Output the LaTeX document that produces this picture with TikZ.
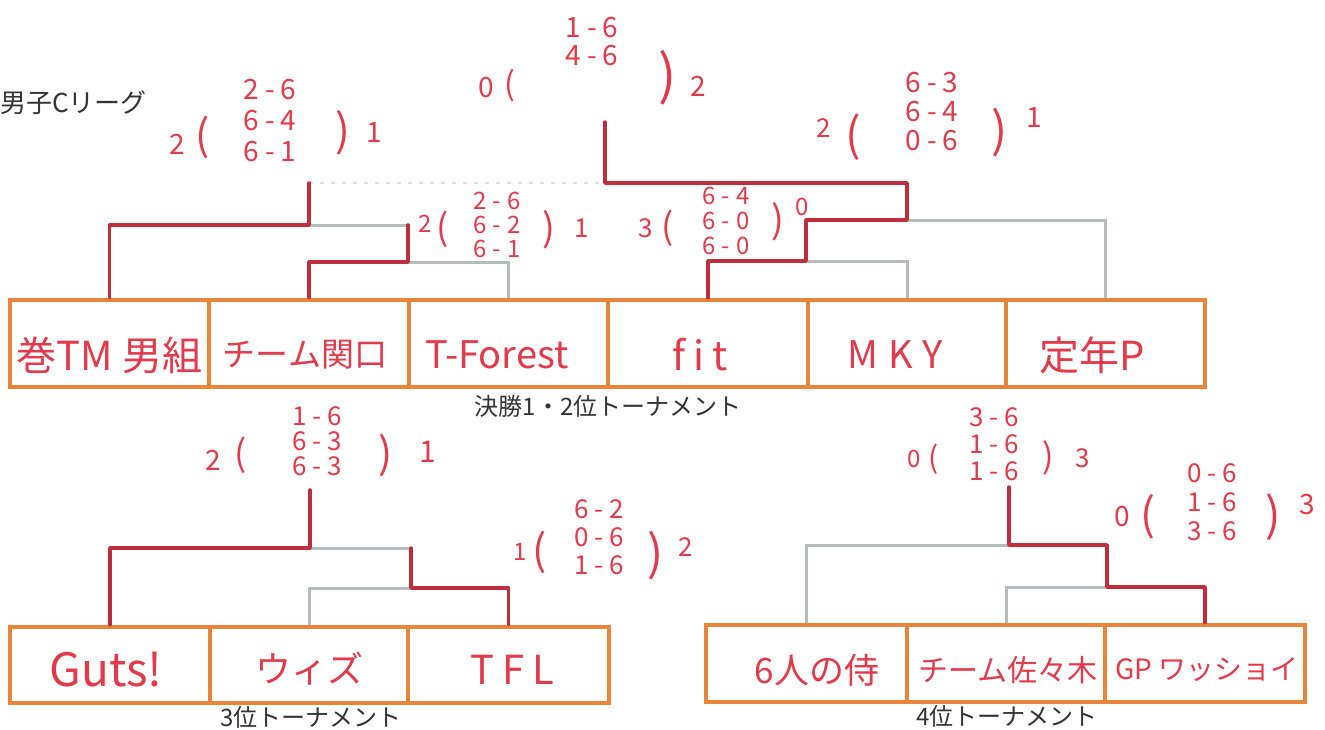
\documentclass[tikz,border=0pt]{standalone}
\usepackage{fontspec}
\newfontfamily\jp{Noto Sans CJK JP}
\definecolor{obox}{HTML}{E8853A}
\definecolor{lgray}{HTML}{B4BCBC}
\definecolor{lred}{HTML}{BE2E3C}
\definecolor{pred}{HTML}{E23A4A}
\definecolor{capt}{HTML}{333333}
\newcommand\myfs[1]{\fontsize{#1}{#1}\selectfont}
\newcommand\sd[2]{#1\kern6pt-\kern6pt#2}
\begin{document}
\begin{tikzpicture}[x=1pt,y=-1pt,
  gl/.style={draw=lgray, line width=3pt},
  rl/.style={draw=lred, line width=3.5pt, line cap=round, line join=round},
  faint/.style={draw=lgray!45, line width=2pt, dash pattern=on 4pt off 7pt},
  cell/.style 2 args={draw=obox, line width=4.5pt, minimum width=#1pt, minimum height=#2pt, inner sep=0pt},
  nm/.style={text=pred, font=\jp\myfs{#1}, inner sep=0pt},
  scn/.style={text=pred, font=\jp\myfs{#1}, inner sep=0pt},
  setcol/.style 2 args={text=pred, font=\jp\fontsize{#1}{#2}\selectfont, align=center, inner sep=0pt},
  captxt/.style={text=capt, font=\jp\myfs{#1}, inner sep=0pt}]
\fill[white] (0,0) rectangle (1325,729);
\useasboundingbox (0,0) rectangle (1325,729);

% captions
\node[captxt=26, anchor=west] (lg) at (0,103) {男子Cリーグ};
\node[captxt=24] (k1) at (608,406) {決勝1・2位トーナメント};
\node[captxt=24] (k3) at (311,717) {3位トーナメント};
\node[captxt=24] (k4) at (1007,716) {4位トーナメント};

% top row cells
\node[cell={199}{87}] (t1) at (109.5,343.5) {};
\node[cell={200}{87}] (t2) at (309,343.5) {};
\node[cell={199}{87}] (t3) at (508.5,343.5) {};
\node[cell={200}{87}] (t4) at (708,343.5) {};
\node[cell={198}{87}] (t5) at (907,343.5) {};
\node[cell={199}{87}] (t6) at (1105.5,343.5) {};
\node[nm=40] (n1) at (109.5,355) {巻TM 男組};
\node[nm=33] (n2) at (305,355) {チーム関口};
\node[nm=38] (n3) at (497,355) {T-Forest};
\node[nm=40] (n4) at (700,355) {f\kern8pt i\kern8pt t};
\node[nm=38] (n5) at (895,355) {M\kern10pt K\kern10pt Y};
\node[nm=40] (n6) at (1092,355) {定年P};

% bottom-left cells
\node[cell={200}{76}] (b1) at (110,665) {};
\node[cell={198}{76}] (b2) at (309,665) {};
\node[cell={201}{76}] (b3) at (508.5,665) {};
\node[nm=46] (m1) at (106,670) {Guts!};
\node[nm=36] (m2) at (309,669) {ウィズ};
\node[nm=40] (m3) at (512,670) {T\kern8pt F\kern8pt L};

% bottom-right cells
\node[cell={201}{77}] (c1) at (806.5,663.5) {};
\node[cell={198}{77}] (c2) at (1006,663.5) {};
\node[cell={200}{77}] (c3) at (1205,663.5) {};
\node[nm=35] (p1) at (817,670) {6人の侍};
\node[nm=30] (p2) at (1008,670) {チーム佐々木};
\node[nm=28] (p3) at (1207,670) {GP ワッショイ};

% ---- top bracket
\coordinate (qL) at (408,262);
\coordinate (sL) at (309,225);
\coordinate (qR) at (806,261);
\coordinate (sR) at (907,220);
\coordinate (fc) at (605,183);
\coordinate (ch) at (605,122);
\draw[gl] (t2.north) |- (qL) -| (t3.north);
\draw[gl] (t1.north) |- (sL) -| (qL);
\draw[gl] (t4.north) |- (qR) -| (t5.north);
\draw[gl] (qR) |- (sR) -| (t6.north);
\draw[gl] (sR) -- (sR|-fc) -- (fc);
\draw[faint] (sL|-fc) -- (fc);
\draw[rl] (t2.north) |- (qL) -- (qL|-sL);
\draw[rl] (t1.north) |- (sL) -- (sL|-fc);
\draw[rl] (t4.north) |- (qR) |- (sR) -- (sR|-fc) -- (fc) -- (ch);

% ---- bottom-left bracket
\coordinate (bq) at (411,588);
\coordinate (bs) at (310,548);
\coordinate (bc) at (310,490);
\draw[gl] (b2.north) |- (bq) -| (b3.north);
\draw[gl] (b1.north) |- (bs) -| (bq);
\draw[rl] (b3.north) |- (bq) -- (bq|-bs);
\draw[rl] (b1.north) |- (bs) -- (bc);

% ---- bottom-right bracket
\coordinate (cq) at (1107,587);
\coordinate (cs) at (1009,545);
\coordinate (cc) at (1009,487);
\draw[gl] (c2.north) |- (cq) -| (c3.north);
\draw[gl] (c1.north) |- (cs) -| (cq);
\draw[rl] (c3.north) |- (cq) -- (cq|-cs) -- (cs) -- (cc);

% ---- scores
% final
\node[scn=28] (f0) at (486,88) {0};
\node[scn=32] (f1) at (510,86) {(};
\node[setcol={28}{28}] (f2) at (592,42) {\sd{1}{6}\\\sd{4}{6}};
\node[scn=54] (f3) at (668,78) {)};
\node[scn=28] (f4) at (698,86) {2};
% top-left semi
\node[scn=28] (g0) at (177,144) {2};
\node[scn=42] (g1) at (203,137) {(};
\node[setcol={28}{31}] (g2) at (270,121) {\sd{2}{6}\\\sd{6}{4}\\\sd{6}{1}};
\node[scn=44] (g3) at (343,133) {)};
\node[scn=28] (g4) at (374,133) {1};
% top-left QF
\node[scn=24] (h0) at (425,224) {2};
\node[scn=36] (h1) at (443,229) {(};
\node[setcol={24}{24}] (h2) at (497,225) {\sd{2}{6}\\\sd{6}{2}\\\sd{6}{1}};
\node[scn=38] (h3) at (549,230) {)};
\node[scn=26] (h4) at (582,228) {1};
% top-right QF
\node[scn=26] (i0) at (646,228) {3};
\node[scn=36] (i1) at (668,228) {(};
\node[setcol={24}{25}] (i2) at (726,221) {\sd{6}{4}\\\sd{6}{0}\\\sd{6}{0}};
\node[scn=38] (i3) at (778,222) {)};
\node[scn=24] (i4) at (802,207) {0};
% top-right semi
\node[scn=26] (j0) at (824,128) {2};
\node[scn=46] (j1) at (853,137) {(};
\node[setcol={28}{29}] (j2) at (932,112) {\sd{6}{3}\\\sd{6}{4}\\\sd{0}{6}};
\node[scn=48] (j3) at (1000,133) {)};
\node[scn=28] (j4) at (1034,118) {1};
% bottom-left final
\node[scn=28] (k0) at (213,460) {2};
\node[scn=36] (kk1) at (241,455) {(};
\node[setcol={26}{25}] (kk2) at (317,441) {\sd{1}{6}\\\sd{6}{3}\\\sd{6}{3}};
\node[scn=42] (kk3) at (386,455) {)};
\node[scn=30] (kk4) at (428,452) {1};
% bottom-left first round
\node[scn=24] (l0) at (520,552) {1};
\node[scn=42] (l1) at (540,552) {(};
\node[setcol={26}{28}] (l2) at (599,537) {\sd{6}{2}\\\sd{0}{6}\\\sd{1}{6}};
\node[scn=48] (l3) at (656,556) {)};
\node[scn=26] (l4) at (686,547) {2};
% bottom-right final
\node[scn=24] (o0) at (914,459) {0};
\node[scn=30] (o1) at (934,459) {(};
\node[setcol={26}{27}] (o2) at (994,444) {\sd{3}{6}\\\sd{1}{6}\\\sd{1}{6}};
\node[scn=34] (o3) at (1048,458) {)};
\node[scn=26] (o4) at (1083,458) {3};
% bottom-right first round
\node[scn=28] (r0) at (1122,517) {0};
\node[scn=44] (r1) at (1148,517) {(};
\node[setcol={26}{29}] (r2) at (1212,502) {\sd{0}{6}\\\sd{1}{6}\\\sd{3}{6}};
\node[scn=46] (r3) at (1273,517) {)};
\node[scn=28] (r4) at (1307,505) {3};
\end{tikzpicture}
\end{document}
